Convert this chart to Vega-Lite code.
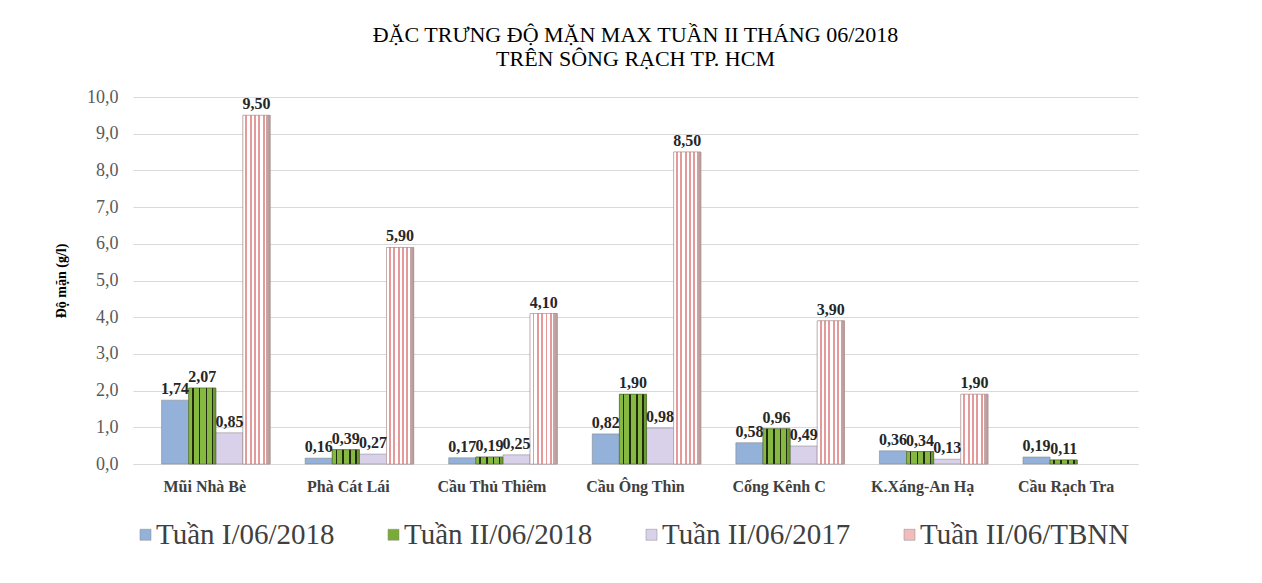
{
  "$schema": "https://vega.github.io/schema/vega-lite/v6.json",
  "autosize": {"type": "none"},
  "width": 1005,
  "height": 367,
  "padding": {"left": 133, "top": 97, "right": 124, "bottom": 119},
  "background": "white",
  "config": {
    "locale": {"number": {"decimal": ",", "thousands": ".", "grouping": [3], "currency": ["", ""]}},
    "view": {"stroke": null},
    "font": "Liberation Serif, serif"
  },
  "title": {
    "text": ["ĐẶC TRƯNG ĐỘ MẶN MAX TUẦN II THÁNG 06/2018", "TRÊN SÔNG RẠCH TP. HCM"],
    "font": "Liberation Serif, serif",
    "fontSize": 22,
    "fontWeight": "normal",
    "color": "#000000",
    "anchor": "middle",
    "offset": 17,
    "lineHeight": 24
  },
  "data": {
    "values": [
      {"tram": "Mũi Nhà Bè", "series": "Tuần I/06/2018", "v": 1.74},
      {"tram": "Mũi Nhà Bè", "series": "Tuần II/06/2018", "v": 2.07},
      {"tram": "Mũi Nhà Bè", "series": "Tuần II/06/2017", "v": 0.85},
      {"tram": "Mũi Nhà Bè", "series": "Tuần II/06/TBNN", "v": 9.5},
      {"tram": "Phà Cát Lái", "series": "Tuần I/06/2018", "v": 0.16},
      {"tram": "Phà Cát Lái", "series": "Tuần II/06/2018", "v": 0.39},
      {"tram": "Phà Cát Lái", "series": "Tuần II/06/2017", "v": 0.27},
      {"tram": "Phà Cát Lái", "series": "Tuần II/06/TBNN", "v": 5.9},
      {"tram": "Cầu Thủ Thiêm", "series": "Tuần I/06/2018", "v": 0.17},
      {"tram": "Cầu Thủ Thiêm", "series": "Tuần II/06/2018", "v": 0.19},
      {"tram": "Cầu Thủ Thiêm", "series": "Tuần II/06/2017", "v": 0.25},
      {"tram": "Cầu Thủ Thiêm", "series": "Tuần II/06/TBNN", "v": 4.1},
      {"tram": "Cầu Ông Thìn", "series": "Tuần I/06/2018", "v": 0.82},
      {"tram": "Cầu Ông Thìn", "series": "Tuần II/06/2018", "v": 1.9},
      {"tram": "Cầu Ông Thìn", "series": "Tuần II/06/2017", "v": 0.98},
      {"tram": "Cầu Ông Thìn", "series": "Tuần II/06/TBNN", "v": 8.5},
      {"tram": "Cống Kênh C", "series": "Tuần I/06/2018", "v": 0.58},
      {"tram": "Cống Kênh C", "series": "Tuần II/06/2018", "v": 0.96},
      {"tram": "Cống Kênh C", "series": "Tuần II/06/2017", "v": 0.49},
      {"tram": "Cống Kênh C", "series": "Tuần II/06/TBNN", "v": 3.9},
      {"tram": "K.Xáng-An Hạ", "series": "Tuần I/06/2018", "v": 0.36},
      {"tram": "K.Xáng-An Hạ", "series": "Tuần II/06/2018", "v": 0.34},
      {"tram": "K.Xáng-An Hạ", "series": "Tuần II/06/2017", "v": 0.13},
      {"tram": "K.Xáng-An Hạ", "series": "Tuần II/06/TBNN", "v": 1.9},
      {"tram": "Cầu Rạch Tra", "series": "Tuần I/06/2018", "v": 0.19},
      {"tram": "Cầu Rạch Tra", "series": "Tuần II/06/2018", "v": 0.11}
    ]
  },
  "encoding": {
    "x": {
      "field": "tram", "type": "nominal", "sort": null,
      "scale": {"paddingInner": 0.09, "paddingOuter": 0.045},
      "axis": {
        "title": null, "labelAngle": 0, "labelFont": "Liberation Serif, serif", "labelFontSize": 16,
        "labelFontWeight": "bold", "labelColor": "#404040", "labelPadding": 14, "ticks": false,
        "domainColor": "#d9d9d9", "domainWidth": 1
      }
    },
    "xOffset": {
      "field": "series", "type": "nominal",
      "sort": ["Tuần I/06/2018", "Tuần II/06/2018", "Tuần II/06/2017", "Tuần II/06/TBNN"],
      "scale": {"domain": ["Tuần I/06/2018", "Tuần II/06/2018", "Tuần II/06/2017", "Tuần II/06/TBNN"], "paddingInner": 0, "paddingOuter": 0.407, "align": 1}
    },
    "y": {
      "field": "v", "type": "quantitative",
      "scale": {"domain": [0, 10], "nice": false},
      "axis": {
        "title": "Độ mặn (g/l)", "titleFont": "Liberation Serif, serif", "titleFontSize": 14,
        "titleFontWeight": "bold", "titleColor": "#000000", "titlePadding": 18,
        "values": [0,1,2,3,4,5,6,7,8,9,10], "format": ".1f",
        "labelFont": "Liberation Serif, serif", "labelFontSize": 18, "labelColor": "#595959",
        "labelPadding": 15, "ticks": false, "domain": false,
        "gridColor": "#d9d9d9", "gridWidth": 1
      }
    }
  },
  "layer": [
    {
      "mark": {"type": "bar", "stroke": "#7f7f7f", "strokeWidth": 0.5},
      "encoding": {
        "color": {
          "field": "series", "type": "nominal",
          "scale": {
            "domain": ["Tuần I/06/2018", "Tuần II/06/2018", "Tuần II/06/2017", "Tuần II/06/TBNN"],
            "range": ["#93b1d9", "#7aab36", "#d9d1ea", "#f2bcbc"]
          },
          "legend": {
            "title": null, "orient": "none", "direction": "horizontal", "columns": 4,
            "legendX": -2, "legendY": 423, "padding": 0, "symbolType": "square", "symbolSize": 121,
            "symbolStrokeWidth": 0.5, "symbolStrokeColor": "#888888",
            "labelFont": "Liberation Serif, serif", "labelFontSize": 29, "labelColor": "#404040",
            "labelOffset": -4, "columnPadding": 44, "labelLimit": 400
          }
        }
      }
    },
    {
      "transform": [{"filter": "datum.series === 'Tuần II/06/TBNN'"}],
      "mark": {
        "type": "bar",
        "stroke": "#b08a8a", "strokeWidth": 0.5,
        "fill": {
          "x1": 0, "y1": 0, "x2": 1, "y2": 0, "gradient": "linear",
          "stops": [
            {"offset": 0.0, "color": "#ffffff"}, {"offset": 0.09, "color": "#ffffff"},
            {"offset": 0.09, "color": "#e49a9a"}, {"offset": 0.16, "color": "#e49a9a"},
            {"offset": 0.16, "color": "#ffffff"}, {"offset": 0.25, "color": "#ffffff"},
            {"offset": 0.25, "color": "#e49a9a"}, {"offset": 0.32, "color": "#e49a9a"},
            {"offset": 0.32, "color": "#ffffff"}, {"offset": 0.41, "color": "#ffffff"},
            {"offset": 0.41, "color": "#e49a9a"}, {"offset": 0.48, "color": "#e49a9a"},
            {"offset": 0.48, "color": "#ffffff"}, {"offset": 0.57, "color": "#ffffff"},
            {"offset": 0.57, "color": "#e49a9a"}, {"offset": 0.64, "color": "#e49a9a"},
            {"offset": 0.64, "color": "#ffffff"}, {"offset": 0.73, "color": "#ffffff"},
            {"offset": 0.73, "color": "#e49a9a"}, {"offset": 0.80, "color": "#e49a9a"},
            {"offset": 0.80, "color": "#ffffff"}, {"offset": 0.86, "color": "#ffffff"},
            {"offset": 0.86, "color": "#c9a7a7"}, {"offset": 1.0, "color": "#b79a9a"}
          ]
        }
      }
    },
    {
      "transform": [{"filter": "datum.series === 'Tuần II/06/2018'"}],
      "mark": {
        "type": "bar",
        "stroke": "#3d5a1c", "strokeWidth": 0.5,
        "fill": {
          "x1": 0, "y1": 0, "x2": 1, "y2": 0, "gradient": "linear",
          "stops": [
            {"offset": 0.0, "color": "#86b842"}, {"offset": 0.12, "color": "#86b842"},
            {"offset": 0.12, "color": "#1f2b10"}, {"offset": 0.18, "color": "#1f2b10"},
            {"offset": 0.18, "color": "#86b842"}, {"offset": 0.37, "color": "#86b842"},
            {"offset": 0.37, "color": "#1f2b10"}, {"offset": 0.43, "color": "#1f2b10"},
            {"offset": 0.43, "color": "#86b842"}, {"offset": 0.62, "color": "#86b842"},
            {"offset": 0.62, "color": "#1f2b10"}, {"offset": 0.68, "color": "#1f2b10"},
            {"offset": 0.68, "color": "#86b842"}, {"offset": 0.85, "color": "#86b842"},
            {"offset": 0.85, "color": "#1f2b10"}, {"offset": 0.90, "color": "#1f2b10"},
            {"offset": 0.90, "color": "#6e9a34"}, {"offset": 1.0, "color": "#6e9a34"}
          ]
        }
      }
    },
    {
      "mark": {"type": "text", "dy": -11, "font": "Liberation Serif, serif", "fontSize": 16, "fontWeight": "bold", "color": "#262626"},
      "encoding": {
        "text": {"field": "v", "type": "quantitative", "format": ".2f"}
      }
    }
  ]
}
